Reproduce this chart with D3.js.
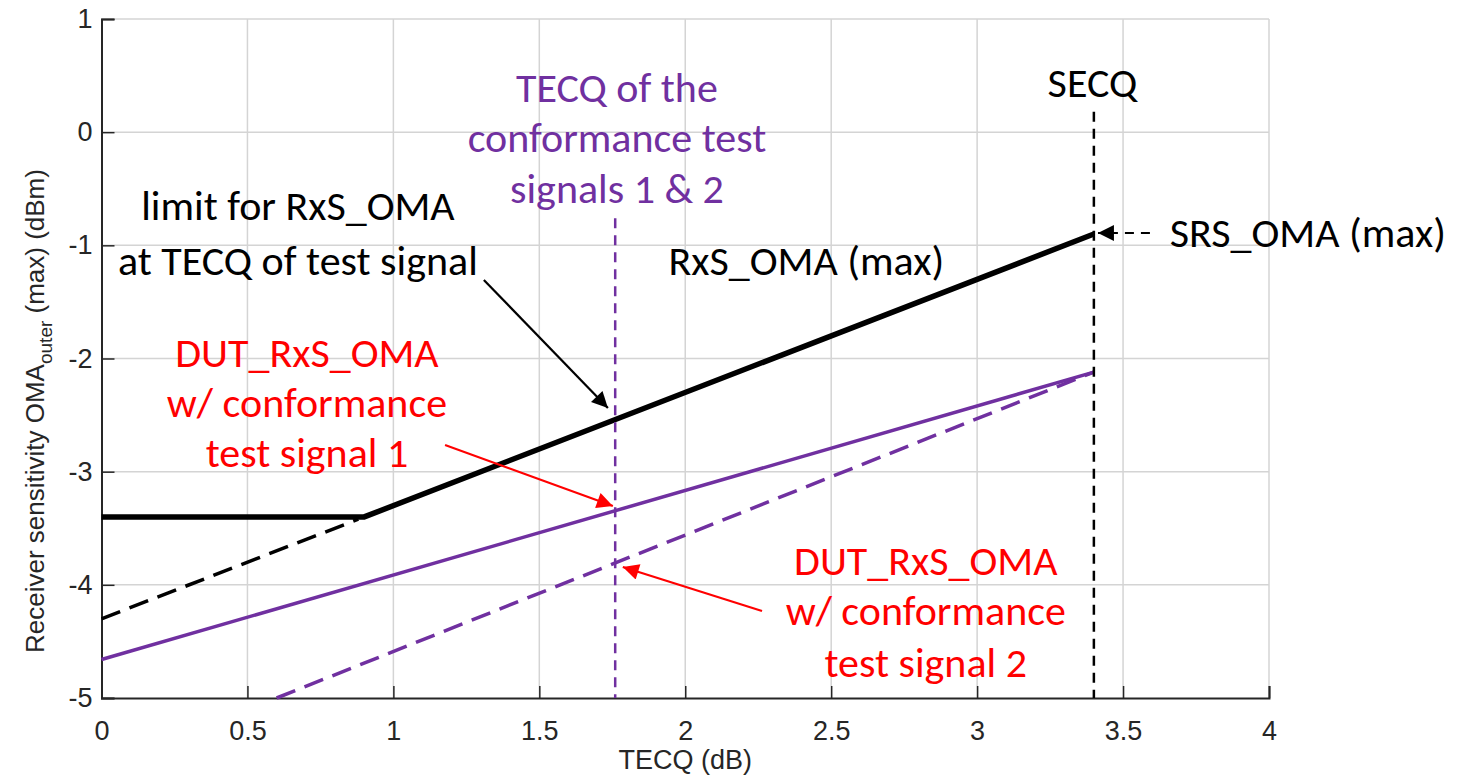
<!DOCTYPE html>
<html>
<head>
<meta charset="utf-8">
<script src="https://cdn.jsdelivr.net/npm/d3@7"></script>
<style>
  body { margin: 0; background: #fff; }
  .tick text { font-family: "Liberation Sans", Arial, sans-serif; font-size: 27px; fill: #262626; }
  .note { font-family: Carlito, Lato, sans-serif; font-size: 42px; }
</style>
</head>
<body>
<svg id="chart" width="1460" height="777"></svg>
<script>
// axis ticks
let xTicks = [0, 0.5, 1, 1.5, 2, 2.5, 3, 3.5, 4];
let yTicks = [1, 0, -1, -2, -3, -4, -5];

// RxS_OMA (max) limit (black solid)
let rxsX = [0, 0.9, 3.4];
let rxsY = [-3.4, -3.4, -0.9];
// extension of the slope below the knee (black dashed)
let extX = [0, 0.88];
let extY = [-4.3, -3.42];
// DUT_RxS_OMA with test signal 1 (purple solid)
let dut1X = [0, 3.4];
let dut1Y = [-4.66, -2.12];
// DUT_RxS_OMA with test signal 2 (purple dashed)
let dut2X = [0.6, 3.4];
let dut2Y = [-5, -2.12];
// vertical markers
let tecqTest = 1.76, tecqTop = -0.76;
let secq = 3.4, secqTop = 0.18;

let svg = d3.select('#chart');
let x = d3.scaleLinear().domain([0, 4]).range([101.5, 1269]);
let y = d3.scaleLinear().domain([-5, 1]).range([698, 19]);

let purple = '#7030a0', red = '#ff0000';

// grid
svg.append('g').selectAll('line').data(xTicks.slice(1)).enter().append('line')
    .attr('x1', d => x(d)).attr('x2', d => x(d)).attr('y1', y(1)).attr('y2', y(-5))
    .attr('stroke', '#d4d4d4').attr('stroke-width', 1.5);
svg.append('g').selectAll('line').data(yTicks.slice(0, -1)).enter().append('line')
    .attr('x1', x(0)).attr('x2', x(4)).attr('y1', d => y(d)).attr('y2', d => y(d))
    .attr('stroke', '#d4d4d4').attr('stroke-width', 1.5);

// axes
let xAxis = svg.append('g').attr('transform', 'translate(0,' + y(-5) + ')')
    .call(d3.axisBottom(x).tickValues(xTicks).tickSize(-12).tickPadding(23).tickFormat(d => String(d)));
let yAxis = svg.append('g').attr('transform', 'translate(' + x(0) + ',0)')
    .call(d3.axisLeft(y).tickValues(yTicks).tickSize(-13).tickPadding(9).tickFormat(d => String(d)));
[xAxis, yAxis].forEach(a => {
    a.select('.domain').attr('stroke', '#262626').attr('stroke-width', 2);
    a.selectAll('.tick line').attr('stroke', '#262626').attr('stroke-width', 1.5);
});

svg.append('text').attr('x', x(2)).attr('y', 769).attr('text-anchor', 'middle')
    .style('font-family', '"Liberation Sans", Arial, sans-serif').style('font-size', '27px').style('fill', '#262626')
    .text('TECQ (dB)');
let yl = svg.append('text').attr('transform', 'translate(44,653) rotate(-90)')
    .attr('text-anchor', 'start')
    .style('font-family', '"Liberation Sans", Arial, sans-serif').style('font-size', '26px').style('fill', '#262626');
yl.append('tspan').text('Receiver sensitivity OMA');
yl.append('tspan').attr('dy', 8).style('font-size', '19px').text('outer');
yl.append('tspan').attr('dy', -8).text(' (max) (dBm)');

// lines
let line = d3.line().x(d => x(d[0])).y(d => y(d[1]));
function draw(xs, ys, color, width, dash) {
    svg.append('path').datum(d3.zip(xs, ys)).attr('d', line)
        .attr('fill', 'none').attr('stroke', color).attr('stroke-width', width)
        .attr('stroke-dasharray', dash);
}
draw(extX, extY, '#000', 3.5, '20,10');
draw(dut2X, dut2Y, purple, 3.5, '20,10');
draw(dut1X, dut1Y, purple, 3.5, null);
draw(rxsX, rxsY, '#000', 5.5, null);
draw([tecqTest, tecqTest], [tecqTop, -5], purple, 2.5, '10,7');
draw([secq, secq], [secqTop, -5], '#000', 2.5, '10,7');

// arrowheads
let defs = svg.append('defs');
['black', red].forEach((c, i) => {
    defs.append('marker').attr('id', 'ah' + i).attr('viewBox', '0 0 10 10')
        .attr('refX', 10).attr('refY', 5).attr('markerUnits', 'userSpaceOnUse')
        .attr('markerWidth', 18).attr('markerHeight', 16).attr('orient', 'auto')
        .append('path').attr('d', 'M0,0 L10,5 L0,10 z').attr('fill', c);
});

// annotation arrows [x1, y1, x2, y2] in data units
let arrows = [
    { p: [1.31, -1.306, 1.735, -2.437], c: 'black', m: 0, dash: null },
    { p: [1.177, -2.764, 1.752, -3.303], c: red, m: 1, dash: null },
    { p: [2.263, -4.231, 1.786, -3.842], c: red, m: 1, dash: null },
    { p: [3.592, -0.891, 3.414, -0.891], c: 'black', m: 0, dash: '9,7' }
];
svg.append('g').selectAll('line').data(arrows).enter().append('line')
    .attr('x1', d => x(d.p[0])).attr('y1', d => y(d.p[1]))
    .attr('x2', d => x(d.p[2])).attr('y2', d => y(d.p[3]))
    .attr('stroke', d => d.c).attr('stroke-width', 2.2)
    .attr('stroke-dasharray', d => d.dash)
    .attr('marker-end', d => 'url(#ah' + d.m + ')');

// annotation texts [x, y] in data units
let notes = [
    { t: 'limit for RxS_OMA', x: 0.673, y: -0.776, c: '#000' },
    { t: 'at TECQ of test signal', x: 0.673, y: -1.262, c: '#000' },
    { t: 'RxS_OMA (max)', x: 2.415, y: -1.262, c: '#000' },
    { t: 'SECQ', x: 3.395, y: 0.311, c: '#000' },
    { t: 'TECQ of the', x: 1.766, y: 0.267, c: purple },
    { t: 'conformance test', x: 1.766, y: -0.175, c: purple },
    { t: 'signals 1 & 2', x: 1.766, y: -0.626, c: purple },
    { t: 'DUT_RxS_OMA', x: 0.704, y: -2.075, c: red },
    { t: 'w/ conformance', x: 0.704, y: -2.517, c: red },
    { t: 'test signal 1', x: 0.704, y: -2.959, c: red },
    { t: 'DUT_RxS_OMA', x: 2.824, y: -3.913, c: red },
    { t: 'w/ conformance', x: 2.824, y: -4.355, c: red },
    { t: 'test signal 2', x: 2.824, y: -4.814, c: red }
];
svg.append('g').selectAll('text').data(notes).enter().append('text')
    .attr('class', 'note').attr('text-anchor', 'middle')
    .attr('x', d => x(d.x)).attr('y', d => y(d.y)).attr('fill', d => d.c)
    .text(d => d.t);
svg.append('text').attr('class', 'note').attr('x', x(3.66)).attr('y', y(-1.015))
    .attr('fill', '#000').text('SRS_OMA (max)');
</script>
</body>
</html>
